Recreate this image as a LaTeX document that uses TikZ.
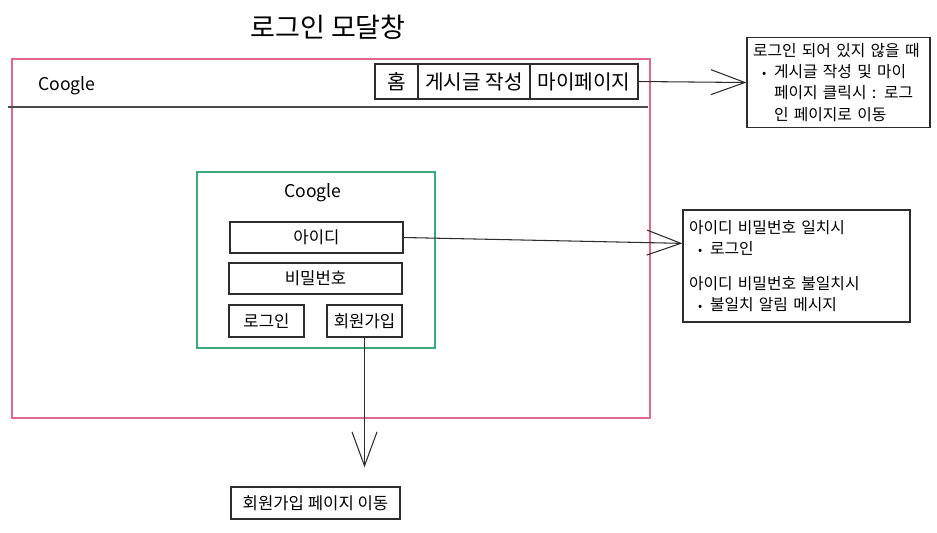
\documentclass[tikz,border=0pt]{standalone}
\usepackage{fontspec}
\setmainfont{Noto Sans CJK KR}
\usepackage{tikz}
\usetikzlibrary{arrows.meta, calc}
\definecolor{framepink}{RGB}{222,105,140}
\definecolor{modalgreen}{RGB}{60,170,125}
\definecolor{edge}{RGB}{45,45,45}
\tikzset{
  navbox/.style = {draw = edge, line width = 0.7pt, inner sep = 0, minimum height = 0.7cm,
    font = \fontsize{11.5}{13}\selectfont},
  fieldbox/.style = {draw = edge, line width = 0.7pt, inner sep = 0, minimum height = 0.62cm,
    font = \fontsize{9.5}{11}\selectfont},
  notebox/.style = {draw = edge, line width = 0.7pt, inner xsep = 0.12cm, align = left,
    font = \fontsize{9}{12}\selectfont},
  barb/.style = {-{Straight Barb[length = 0.68cm, width = 0.5cm]}, edge, line width = 0.6pt}
}
\newcommand{\itm}{\hspace*{0.18cm}\makebox[0.24cm][l]{\scriptsize •}}
\newcommand{\cnt}{\hspace*{0.42cm}}

\begin{document}
\begin{tikzpicture}[x = 0.02cm, y = -0.02cm]
    \useasboundingbox (0, 0) rectangle (937, 532);

    \node [font = \fontsize{15.4}{18}\selectfont] (title) at (328, 27) {로그인 모달창};

    \node [draw = framepink, line width = 0.8pt, minimum width = 12.76cm, minimum height = 7.18cm,
      inner sep = 0] (frame) at (331, 238.5) {};
    \draw [edge!85, line width = 1.1pt] (8, 107) -- (648, 107);
    \node [font = \fontsize{10}{12}\selectfont] (logo) at (67, 86) {Coogle};

    \node [navbox, minimum width = 0.86cm] (home) at (396.5, 81.5) {홈};
    \node [navbox, minimum width = 2.24cm] (write) at (474, 81.5) {게시글 작성};
    \node [navbox, minimum width = 2.16cm] (mypage) at (584, 81.5) {마이페이지};

    \node [notebox, text width = 3.42cm, minimum height = 1.78cm] (guest) at (838.5, 82.5)
      {\mbox{로그인 되어 있지 않을 때}\\
       \itm 게시글 작성 및 마이\\
       \cnt 페이지 클릭시 : 로그\\
       \cnt 인 페이지로 이동};

    \node [draw = modalgreen, line width = 0.7pt, minimum width = 4.76cm, minimum height = 3.52cm,
      inner sep = 0] (modal) at (316, 260) {};
    \node [font = \fontsize{10}{12}\selectfont] (modallogo) at (313, 193) {Coogle};

    \node [fieldbox, minimum width = 3.46cm] (id) at (316.5, 237.5) {아이디};
    \node [fieldbox, minimum width = 3.46cm] (pw) at (315.5, 278.5) {비밀번호};
    \node [fieldbox, minimum width = 1.5cm, minimum height = 0.64cm] (login) at (266.5, 321) {로그인};
    \node [fieldbox, minimum width = 1.5cm, minimum height = 0.64cm] (join) at (364.5, 321) {회원가입};

    \node [notebox, text width = 4.3cm, minimum height = 2.24cm] (check) at (796.5, 266)
      {아이디 비밀번호 일치시\\
       \itm 로그인\\[0.28cm]
       아이디 비밀번호 불일치시\\
       \itm 불일치 알림 메시지};

    \node [fieldbox, minimum width = 3.38cm, minimum height = 0.64cm] (joinpage) at (315.5, 503)
      {회원가입 페이지 이동};

    \draw [barb] (mypage.east) -- (guest.west);
    \draw [barb] (id.east) -- ($(check.north west)!0.3!(check.south west)$);
    \draw [barb, shorten >= 0.38cm] (join.south) -- (join.south |- joinpage.north);
\end{tikzpicture}
\end{document}
